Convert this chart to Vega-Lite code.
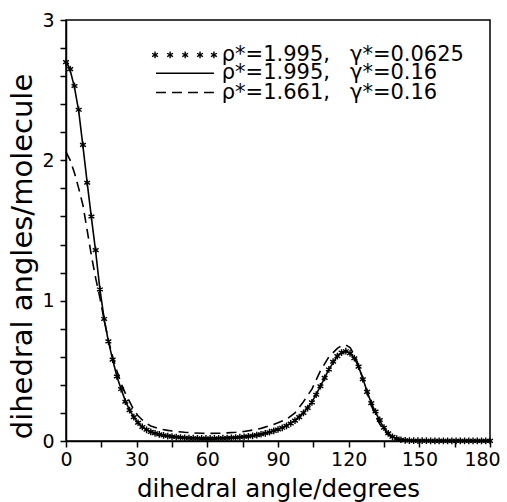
{
  "$schema": "https://vega.github.io/schema/vega-lite/v6.json",
  "width": 424,
  "height": 421,
  "autosize": {"type": "none"},
  "padding": {"left": 66, "top": 20, "right": 17, "bottom": 61},
  "background": "white",
  "config": {
    "view": {"stroke": "black", "strokeWidth": 1.5},
    "font": "DejaVu Sans",
    "axis": {
      "domainColor": "black", "domainWidth": 1.5,
      "tickColor": "black", "tickWidth": 1.5, "tickSize": 6,
      "labelColor": "black", "labelFont": "DejaVu Sans", "labelFontSize": 19,
      "titleColor": "black", "titleFont": "DejaVu Sans", "titleFontWeight": "normal",
      "grid": false
    }
  },
  "datasets": {
    "stars": [
      {"angle": 0, "value": 2.70}, {"angle": 1.8, "value": 2.65}, {"angle": 3.6, "value": 2.53}, {"angle": 5.4, "value": 2.36},
      {"angle": 7.2, "value": 2.11}, {"angle": 9.0, "value": 1.84}, {"angle": 10.8, "value": 1.60}, {"angle": 12.6, "value": 1.36},
      {"angle": 14.4, "value": 1.08}, {"angle": 16.2, "value": 0.87}, {"angle": 18.0, "value": 0.71}, {"angle": 19.8, "value": 0.58},
      {"angle": 21.6, "value": 0.46}, {"angle": 23.4, "value": 0.37}, {"angle": 25.2, "value": 0.28}, {"angle": 27.0, "value": 0.22},
      {"angle": 28.8, "value": 0.17}, {"angle": 30.6, "value": 0.13}, {"angle": 32.4, "value": 0.10}, {"angle": 34.2, "value": 0.08},
      {"angle": 36.0, "value": 0.065}, {"angle": 37.8, "value": 0.055}, {"angle": 39.6, "value": 0.047}, {"angle": 41.4, "value": 0.04},
      {"angle": 43.2, "value": 0.035}, {"angle": 45.0, "value": 0.031}, {"angle": 46.8, "value": 0.028}, {"angle": 48.6, "value": 0.025},
      {"angle": 50.4, "value": 0.023}, {"angle": 52.2, "value": 0.021}, {"angle": 54.0, "value": 0.02}, {"angle": 55.8, "value": 0.019},
      {"angle": 57.6, "value": 0.018}, {"angle": 59.4, "value": 0.018}, {"angle": 61.2, "value": 0.018}, {"angle": 63.0, "value": 0.018},
      {"angle": 64.8, "value": 0.019}, {"angle": 66.6, "value": 0.02}, {"angle": 68.4, "value": 0.021}, {"angle": 70.2, "value": 0.023},
      {"angle": 72.0, "value": 0.025}, {"angle": 73.8, "value": 0.027}, {"angle": 75.6, "value": 0.03}, {"angle": 77.4, "value": 0.033},
      {"angle": 79.2, "value": 0.037}, {"angle": 81.0, "value": 0.042}, {"angle": 82.8, "value": 0.048}, {"angle": 84.6, "value": 0.055},
      {"angle": 86.4, "value": 0.063}, {"angle": 88.2, "value": 0.072}, {"angle": 90.0, "value": 0.082}, {"angle": 91.8, "value": 0.094},
      {"angle": 93.6, "value": 0.108}, {"angle": 95.4, "value": 0.125}, {"angle": 97.2, "value": 0.145}, {"angle": 99.0, "value": 0.17},
      {"angle": 100.8, "value": 0.2}, {"angle": 102.6, "value": 0.235}, {"angle": 104.4, "value": 0.275}, {"angle": 106.2, "value": 0.33},
      {"angle": 108.0, "value": 0.39}, {"angle": 109.8, "value": 0.45}, {"angle": 111.6, "value": 0.51}, {"angle": 113.4, "value": 0.565},
      {"angle": 115.2, "value": 0.605}, {"angle": 117.0, "value": 0.63}, {"angle": 118.8, "value": 0.64}, {"angle": 120.6, "value": 0.625},
      {"angle": 122.4, "value": 0.59}, {"angle": 124.2, "value": 0.53}, {"angle": 126.0, "value": 0.44}, {"angle": 127.8, "value": 0.35},
      {"angle": 129.6, "value": 0.27}, {"angle": 131.4, "value": 0.21}, {"angle": 133.2, "value": 0.15}, {"angle": 135.0, "value": 0.095},
      {"angle": 136.8, "value": 0.055}, {"angle": 138.6, "value": 0.03}, {"angle": 140.4, "value": 0.017}, {"angle": 142.2, "value": 0.009},
      {"angle": 144.0, "value": 0.005}, {"angle": 145.8, "value": 0.003}, {"angle": 147.6, "value": 0.002}, {"angle": 149.4, "value": 0.002},
      {"angle": 151.2, "value": 0.002}, {"angle": 153.0, "value": 0.002}, {"angle": 154.8, "value": 0.001}, {"angle": 156.6, "value": 0.001},
      {"angle": 158.4, "value": 0.001}, {"angle": 160.2, "value": 0.001}, {"angle": 162.0, "value": 0.001}, {"angle": 163.8, "value": 0.001},
      {"angle": 165.6, "value": 0.001}, {"angle": 167.4, "value": 0.001}, {"angle": 169.2, "value": 0.001}, {"angle": 171.0, "value": 0.001},
      {"angle": 172.8, "value": 0.001}, {"angle": 174.6, "value": 0.001}, {"angle": 176.4, "value": 0.001}, {"angle": 178.2, "value": 0.001},
      {"angle": 180.0, "value": 0.001}
    ],
    "solid": [
      {"angle": 0, "value": 2.71}, {"angle": 1.8, "value": 2.64}, {"angle": 3.6, "value": 2.52}, {"angle": 5.4, "value": 2.35},
      {"angle": 7.2, "value": 2.10}, {"angle": 9.0, "value": 1.84}, {"angle": 10.8, "value": 1.59}, {"angle": 12.6, "value": 1.35},
      {"angle": 14.4, "value": 1.08}, {"angle": 16.2, "value": 0.87}, {"angle": 18.0, "value": 0.71}, {"angle": 19.8, "value": 0.58},
      {"angle": 21.6, "value": 0.46}, {"angle": 23.4, "value": 0.37}, {"angle": 25.2, "value": 0.285}, {"angle": 27.0, "value": 0.22},
      {"angle": 28.8, "value": 0.17}, {"angle": 30.6, "value": 0.13}, {"angle": 32.4, "value": 0.10}, {"angle": 34.2, "value": 0.08},
      {"angle": 36.0, "value": 0.066}, {"angle": 39.6, "value": 0.048}, {"angle": 43.2, "value": 0.036}, {"angle": 46.8, "value": 0.029},
      {"angle": 50.4, "value": 0.024}, {"angle": 54.0, "value": 0.021}, {"angle": 57.6, "value": 0.019}, {"angle": 61.2, "value": 0.019},
      {"angle": 64.8, "value": 0.02}, {"angle": 68.4, "value": 0.022}, {"angle": 72.0, "value": 0.026}, {"angle": 75.6, "value": 0.031},
      {"angle": 79.2, "value": 0.038}, {"angle": 82.8, "value": 0.049}, {"angle": 86.4, "value": 0.064}, {"angle": 90.0, "value": 0.083},
      {"angle": 93.6, "value": 0.11}, {"angle": 97.2, "value": 0.147}, {"angle": 100.8, "value": 0.2}, {"angle": 104.4, "value": 0.277},
      {"angle": 108.0, "value": 0.39}, {"angle": 111.6, "value": 0.51}, {"angle": 115.2, "value": 0.605}, {"angle": 117.0, "value": 0.63},
      {"angle": 118.8, "value": 0.638}, {"angle": 120.6, "value": 0.627}, {"angle": 122.4, "value": 0.59}, {"angle": 124.2, "value": 0.53},
      {"angle": 126.0, "value": 0.445}, {"angle": 127.8, "value": 0.355}, {"angle": 129.6, "value": 0.27}, {"angle": 131.4, "value": 0.205},
      {"angle": 133.2, "value": 0.145}, {"angle": 135.0, "value": 0.092}, {"angle": 136.8, "value": 0.053}, {"angle": 138.6, "value": 0.029},
      {"angle": 140.4, "value": 0.016}, {"angle": 142.2, "value": 0.008}, {"angle": 144.0, "value": 0.004}, {"angle": 147.6, "value": 0.002},
      {"angle": 151.2, "value": 0.001}, {"angle": 160.0, "value": 0.001}, {"angle": 170.0, "value": 0.001}, {"angle": 180.0, "value": 0.001}
    ],
    "dashed": [
      {"angle": 0, "value": 2.06}, {"angle": 1.8, "value": 2.00}, {"angle": 3.6, "value": 1.91}, {"angle": 5.4, "value": 1.80},
      {"angle": 7.2, "value": 1.68}, {"angle": 9.0, "value": 1.50}, {"angle": 10.8, "value": 1.32}, {"angle": 12.6, "value": 1.16},
      {"angle": 14.4, "value": 1.02}, {"angle": 16.2, "value": 0.86}, {"angle": 18.0, "value": 0.72}, {"angle": 19.8, "value": 0.60},
      {"angle": 21.6, "value": 0.50}, {"angle": 23.4, "value": 0.41}, {"angle": 25.2, "value": 0.34}, {"angle": 27.0, "value": 0.28},
      {"angle": 28.8, "value": 0.22}, {"angle": 30.6, "value": 0.18}, {"angle": 32.4, "value": 0.15}, {"angle": 34.2, "value": 0.125},
      {"angle": 36.0, "value": 0.107}, {"angle": 39.6, "value": 0.087}, {"angle": 43.2, "value": 0.076}, {"angle": 46.8, "value": 0.068},
      {"angle": 50.4, "value": 0.062}, {"angle": 54.0, "value": 0.058}, {"angle": 57.6, "value": 0.055}, {"angle": 61.2, "value": 0.054},
      {"angle": 64.8, "value": 0.055}, {"angle": 68.4, "value": 0.058}, {"angle": 72.0, "value": 0.062}, {"angle": 75.6, "value": 0.068},
      {"angle": 79.2, "value": 0.078}, {"angle": 82.8, "value": 0.09}, {"angle": 86.4, "value": 0.108}, {"angle": 90.0, "value": 0.13},
      {"angle": 93.6, "value": 0.155}, {"angle": 97.2, "value": 0.2}, {"angle": 100.8, "value": 0.28}, {"angle": 104.4, "value": 0.37},
      {"angle": 108.0, "value": 0.5}, {"angle": 111.6, "value": 0.6}, {"angle": 115.2, "value": 0.66}, {"angle": 117.0, "value": 0.68},
      {"angle": 118.8, "value": 0.685}, {"angle": 120.6, "value": 0.665}, {"angle": 122.4, "value": 0.615}, {"angle": 124.2, "value": 0.54},
      {"angle": 126.0, "value": 0.445}, {"angle": 127.8, "value": 0.345}, {"angle": 129.6, "value": 0.255}, {"angle": 131.4, "value": 0.18},
      {"angle": 133.2, "value": 0.12}, {"angle": 135.0, "value": 0.075}, {"angle": 136.8, "value": 0.045}, {"angle": 138.6, "value": 0.025},
      {"angle": 140.4, "value": 0.013}, {"angle": 142.2, "value": 0.007}, {"angle": 144.0, "value": 0.004}, {"angle": 147.6, "value": 0.002},
      {"angle": 160.0, "value": 0.001}, {"angle": 180.0, "value": 0.001}
    ],
    "legendStars": [
      {"angle": 37.8, "value": 2.751}, {"angle": 44.2, "value": 2.751}, {"angle": 50.6, "value": 2.751},
      {"angle": 56.9, "value": 2.751}, {"angle": 62.8, "value": 2.751}
    ],
    "legendSolid": [
      {"angle": 38.2, "value": 2.621}, {"angle": 62.8, "value": 2.621}
    ],
    "legendDashed": [
      {"angle": 38.2, "value": 2.483}, {"angle": 62.8, "value": 2.483}
    ],
    "legendText": [
      {"angle": 66.1, "value": 2.751, "label": "ρ*=1.995,\u00a0\u00a0\u00a0γ*=0.0625"},
      {"angle": 66.1, "value": 2.621, "label": "ρ*=1.995,\u00a0\u00a0\u00a0γ*=0.16"},
      {"angle": 66.1, "value": 2.483, "label": "ρ*=1.661,\u00a0\u00a0\u00a0γ*=0.16"}
    ]
  },
  "encoding": {
    "x": {
      "field": "angle", "type": "quantitative",
      "scale": {"domain": [0, 180], "nice": false, "zero": false},
      "axis": {
        "title": "dihedral angle/degrees",
        "titleFontSize": 24.5,
        "values": [0, 15, 30, 45, 60, 75, 90, 105, 120, 135, 150, 165, 180],
        "labelExpr": "datum.value % 30 == 0 ? datum.label : ''",
        "labelOffset": {"condition": {"test": "datum.value == 180", "value": -8}, "value": 0},
        "labelPadding": 3, "titlePadding": 8, "labelFlush": false
      }
    },
    "y": {
      "field": "value", "type": "quantitative",
      "scale": {"domain": [0, 3], "nice": false},
      "axis": {
        "title": "dihedral angles/molecule",
        "titleFontSize": 29,
        "titleY": 236,
        "values": [0, 0.2, 0.4, 0.6, 0.8, 1, 1.2, 1.4, 1.6, 1.8, 2, 2.2, 2.4, 2.6, 2.8, 3],
        "labelExpr": "round(datum.value) == datum.value ? format(datum.value, 'd') : ''",
        "labelPadding": 6, "titlePadding": 4, "labelFlush": false
      }
    }
  },
  "layer": [
    {
      "data": {"name": "dashed"},
      "mark": {"type": "line", "color": "black", "strokeWidth": 1.6, "strokeDash": [10, 6]}
    },
    {
      "data": {"name": "solid"},
      "mark": {"type": "line", "color": "black", "strokeWidth": 1.6}
    },
    {
      "data": {"name": "stars"},
      "mark": {"type": "point", "shape": "M0,-1L0,1M-0.87,-0.5L0.87,0.5M-0.87,0.5L0.87,-0.5", "size": 45, "color": "black", "strokeWidth": 1.4, "filled": false, "opacity": 1}
    },
    {
      "data": {"name": "legendStars"},
      "mark": {"type": "point", "shape": "M0,-1L0,1M-0.87,-0.5L0.87,0.5M-0.87,0.5L0.87,-0.5", "size": 45, "color": "black", "strokeWidth": 1.4, "filled": false, "opacity": 1}
    },
    {
      "data": {"name": "legendSolid"},
      "mark": {"type": "line", "color": "black", "strokeWidth": 1.6}
    },
    {
      "data": {"name": "legendDashed"},
      "mark": {"type": "line", "color": "black", "strokeWidth": 1.6, "strokeDash": [10, 6]}
    },
    {
      "data": {"name": "legendText"},
      "mark": {"type": "text", "align": "left", "baseline": "middle", "fontSize": 21, "font": "DejaVu Sans", "color": "black"},
      "encoding": {"text": {"field": "label"}}
    }
  ]
}
